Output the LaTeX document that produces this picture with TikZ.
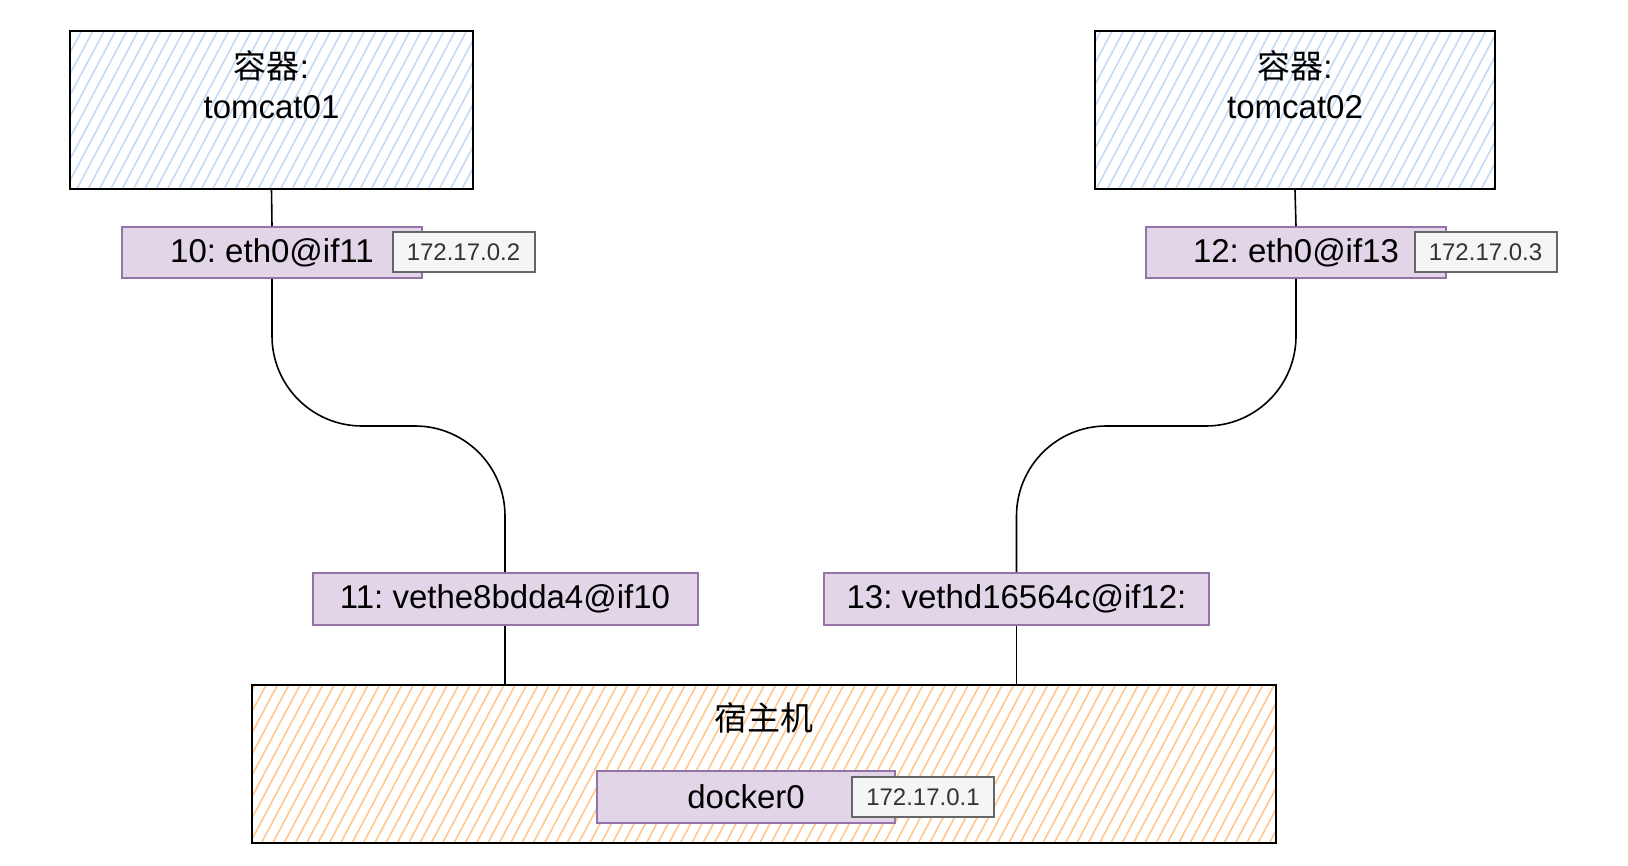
\documentclass[tikz,border=0pt]{standalone}
\usepackage{fontspec}
\setmainfont{Liberation Sans}
\newfontfamily\cjk{Noto Sans CJK SC}
\usetikzlibrary{patterns.meta,positioning}
\definecolor{hachblue}{HTML}{C3DAF7}
\definecolor{hachorange}{HTML}{FFC78F}
\definecolor{ifline}{HTML}{9673A6}
\definecolor{iffill}{HTML}{E1D5E7}
\definecolor{ipline}{HTML}{666666}
\definecolor{ipfill}{HTML}{F5F5F5}
\definecolor{iptext}{HTML}{333333}
\newcommand{\bigtxt}{\fontsize{33}{40}\selectfont}
\frenchspacing

\begin{document}
\begin{tikzpicture}[x=1pt,y=-1pt,
	sketchbox/.style={draw=black,line width=2.5pt,inner sep=0pt,
		pattern={Lines[angle=62,distance=10pt,line width=1.6pt]}},
	ifbox/.style={draw=ifline,fill=iffill,line width=2pt,inner sep=0pt,
		minimum height=51pt,font=\bigtxt},
	ipbox/.style={draw=ipline,fill=ipfill,line width=2pt,inner sep=0pt,
		minimum width=142pt,minimum height=40pt,text=iptext,
		font=\fontsize{24}{30}\selectfont},
	wire/.style={line width=1.6pt,rounded corners=90pt}]
	\useasboundingbox (0,0) rectangle (1628,866);
	% containers
	\node[sketchbox,pattern color=hachblue,minimum width=403pt,minimum height=158pt] (c1) at (271.5,110) {};
	\node[sketchbox,pattern color=hachblue,minimum width=400pt,minimum height=158pt] (c2) at (1295,110) {};
	\node[align=center,font=\bigtxt] (t1) at (271.5,85) {{\cjk 容器}:\\tomcat01};
	\node[align=center,font=\bigtxt] (t2) at (1295,85) {{\cjk 容器}:\\tomcat02};
	% interfaces in the containers
	\node[ifbox,minimum width=300pt] (eth1) at (272,252.5) {10: eth0@if11};
	\node[ifbox,minimum width=300pt] (eth2) at (1296,252.5) {12: eth0@if13};
	\node[ipbox] (ip1) at (463.5,252) {172.17.0.2};
	\node[ipbox] (ip2) at (1485.5,252) {172.17.0.3};
	% host side
	\node[ifbox,minimum width=385pt,minimum height=52pt] (veth1) at (505,599) {11: vethe8bdda4@if10};
	\node[ifbox,minimum width=385pt,minimum height=52pt] (veth2) at (1016.5,599) {13: vethd16564c@if12:};
	\node[sketchbox,pattern color=hachorange,minimum width=1024pt,minimum height=158pt] (host) at (764,764) {};
	\node[font=\bigtxt\cjk] (hosttxt) at (764,718) {宿主机};
	\node[ifbox,minimum width=298pt,minimum height=52pt] (br) at (746,797) {docker0};
	\node[ipbox] (ip3) at (923,797) {172.17.0.1};

	\coordinate (m1) at (389,426);
	\coordinate (m2) at (1158.5,426);
	\draw[line width=1.6pt] (c1.south) -- (eth1.north);
	\draw[line width=1.6pt] (c2.south) -- (eth2.north);
	\draw[wire] (eth1.south) -- (eth1.south |- m1) -- (veth1.north |- m1) -- (veth1.north);
	\draw[wire] (eth2.south) -- (eth2.south |- m2) -- (veth2.north |- m2) -- (veth2.north);
	\draw[line width=1.6pt] (veth1.south) -- (veth1.south |- host.north);
	\draw[line width=1.6pt] (veth2.south) -- (veth2.south |- host.north);
\end{tikzpicture}
\end{document}
